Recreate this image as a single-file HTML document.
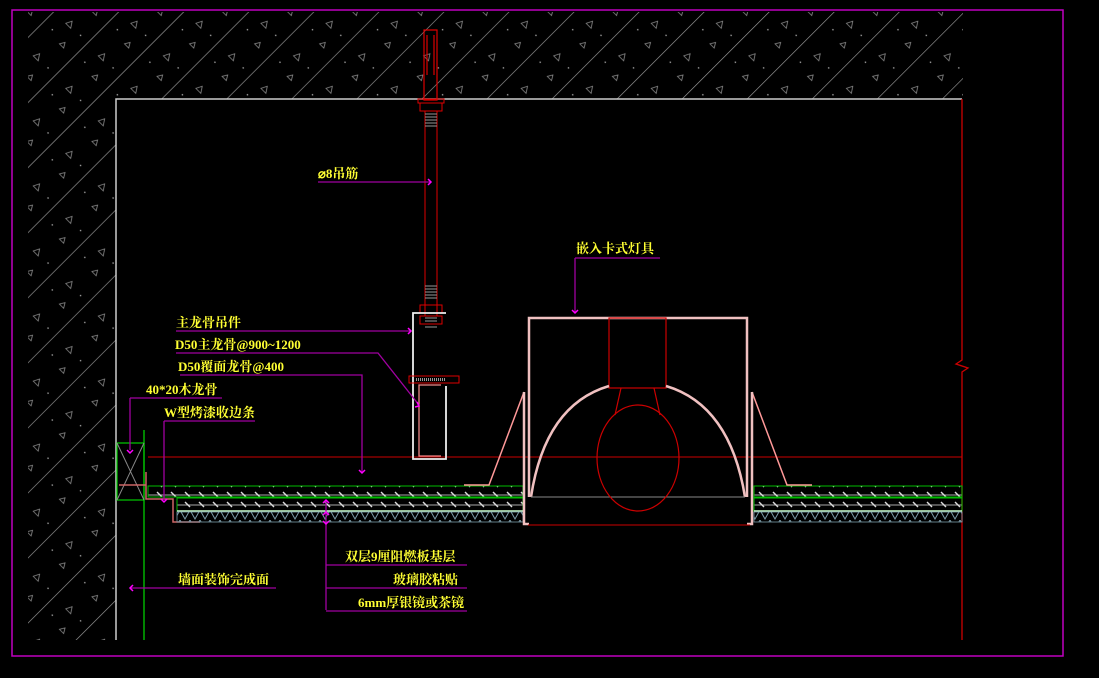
<!DOCTYPE html>
<html><head><meta charset="utf-8"><style>
html,body{margin:0;padding:0;background:#000;}
svg{display:block}
text{font-family:"Liberation Serif","Noto Serif CJK SC",serif;font-size:13px;fill:#ffff33;font-weight:bold;}
</style></head><body>
<svg width="1099" height="678" viewBox="0 0 1099 678" xmlns="http://www.w3.org/2000/svg">
<defs>
<pattern id="hatch" width="46" height="46" patternUnits="userSpaceOnUse" patternTransform="rotate(45)">
<line x1="0" y1="0" x2="0" y2="46" stroke="#9a9a9a" stroke-width="1.3"/>
<path d="M20 10 l4 6 h-7z M30 30 l3 5 h-6z" fill="none" stroke="#888" stroke-width="0.8"/>
<circle cx="12" cy="30" r="0.8" fill="#aaa"/><circle cx="36" cy="14" r="0.8" fill="#aaa"/>
</pattern>
<pattern id="board" width="14" height="10" patternUnits="userSpaceOnUse">
<line x1="0" y1="5" x2="14" y2="5" stroke="#aaa" stroke-width="1"/>
<line x1="3" y1="2" x2="8" y2="7" stroke="#ddd" stroke-width="1.4"/>
</pattern>
<pattern id="zig" width="10" height="10" patternUnits="userSpaceOnUse">
<path d="M0 0 L5 9 L10 0" fill="none" stroke="#7a9aa8" stroke-width="1"/>
</pattern>
</defs>
<rect x="12" y="10" width="1051" height="646" fill="none" stroke="#c000c0" stroke-width="1.5"/>
<path d="M28 12 H963 V99 H116 V640 H28 Z" fill="url(#hatch)"/>
<path d="M116 640 V99 H962" fill="none" stroke="#ccc" stroke-width="1.5"/>
<path d="M962 99 V360 L956 364 L968 368 L962 372 V640" fill="none" stroke="#c00" stroke-width="1.3"/>
<line x1="148" y1="457" x2="962" y2="457" stroke="#c00" stroke-width="1"/>
<line x1="144" y1="430" x2="144" y2="640" stroke="#0c0" stroke-width="1.3"/>
<rect x="117" y="443" width="27" height="57" fill="none" stroke="#0c0" stroke-width="1.2"/>
<path d="M117 443 L144 500 M144 443 L117 500" stroke="#888" stroke-width="1"/>
<path d="M119 485 H146 V472 M146 485 V499 H173 V522 H200" fill="none" stroke="#c66" stroke-width="1.5"/>
<rect x="148" y="486" width="375" height="11" fill="url(#board)" stroke="#0b0" stroke-width="1"/>
<rect x="177" y="498" width="346" height="13" fill="url(#board)" stroke="#0b0" stroke-width="1"/>
<line x1="177" y1="511" x2="523" y2="511" stroke="#cfc" stroke-width="1.5"/>
<rect x="177" y="512" width="346" height="10" fill="url(#zig)" stroke="#7a9aa8" stroke-width="0.8"/>
<rect x="754" y="486" width="208" height="11" fill="url(#board)" stroke="#0b0" stroke-width="1"/>
<rect x="754" y="498" width="208" height="13" fill="url(#board)" stroke="#0b0" stroke-width="1"/>
<line x1="754" y1="511" x2="962" y2="511" stroke="#cfc" stroke-width="1.5"/>
<rect x="754" y="512" width="208" height="10" fill="url(#zig)" stroke="#7a9aa8" stroke-width="0.8"/>
<path d="M424 30 H437 V100 H424 Z M427 35 V75 M434 35 V75" fill="none" stroke="#d00" stroke-width="1.2"/>
<rect x="418" y="99" width="26" height="4" fill="none" stroke="#d00"/>
<rect x="420" y="103" width="22" height="8" fill="none" stroke="#d00"/>
<rect x="425" y="111" width="12" height="205" fill="none" stroke="#d00"/>
<path d="M425 114h12M425 117h12M425 120h12M425 123h12M425 126h12M425 286h12M425 289h12M425 292h12M425 295h12M425 298h12M425 318h12M425 321h12M425 324h12M425 327h12" stroke="#999"/>
<rect x="420" y="305" width="22" height="8" fill="none" stroke="#d00"/>
<rect x="420" y="316" width="22" height="8" fill="none" stroke="#d00"/>
<path d="M446 313 H413 V459 H446 V386" fill="none" stroke="#eee" stroke-width="1.8"/>
<path d="M441 385 H419 V456 H441" fill="none" stroke="#e88" stroke-width="1.3"/>
<rect x="409" y="376" width="50" height="7" fill="none" stroke="#d00"/>
<path d="M416 379.5h30" stroke="#999" stroke-width="3" stroke-dasharray="1 1"/>
<path d="M464 485 H489 L524 392 M812 485 H787 L752 392" fill="none" stroke="#f99" stroke-width="1.5"/>
<path d="M529 497 V318 H747 V497 M524 392 V524 H529 M752 392 V524 H747" fill="none" stroke="#f0c0c0" stroke-width="2.5"/>
<path d="M528 525 H750" stroke="#c00"/>
<rect x="609" y="318" width="57" height="70" fill="none" stroke="#c00" stroke-width="1.2"/>
<path d="M609 386 Q545 405 531 497 M666 386 Q730 405 745 497" fill="none" stroke="#f0c0c0" stroke-width="2.5"/>
<line x1="531" y1="497" x2="745" y2="497" stroke="#888"/>
<path d="M621 388 L615 415 M654 388 L660 415" stroke="#c00" stroke-width="1.2"/>
<ellipse cx="638" cy="458" rx="41" ry="53" fill="none" stroke="#c00" stroke-width="1.2"/>
<g stroke="#a000a0" stroke-width="1.3" fill="none">
<path d="M318 182 H430"/>
<path d="M176 331 H410"/>
<path d="M176 353 H378 L419 405"/>
<path d="M180 375 H362 V473"/>
<path d="M130 398 H222"/>
<path d="M130 398 V450"/>
<path d="M164 421 H255"/>
<path d="M164 421 V500"/>
<path d="M575 258 H660 M575 258 V312"/>
<path d="M326 500 V610 M326 565 H467 M326 588 H467 M326 611 H467"/>
<path d="M130 588 H276"/>
</g>
<g stroke="#ff00ff" stroke-width="1.5" fill="none">
<path d="M428 179 l3 3 l-3 3"/><path d="M408 328 l3 3 l-3 3"/><path d="M417 402 l2 4 l-4 1"/>
<path d="M359 470 l3 3 l3 -3"/><path d="M127 450 l3 3 l3 -3"/><path d="M161 499 l3 3 l3 -3"/>
<path d="M572 310 l3 3 l3 -3"/><path d="M323 503 l3 -3 l3 3 M323 515 l3 -3 l3 3 M323 521 l3 3 l3 -3"/>
<path d="M133 585 l-3 3 l3 3"/>
</g>
<text x="318" y="178">⌀8吊筋</text>
<text x="576" y="253">嵌入卡式灯具</text>
<text x="176" y="327">主龙骨吊件</text>
<text x="175" y="349">D50主龙骨@900~1200</text>
<text x="178" y="371">D50覆面龙骨@400</text>
<text x="146" y="394">40*20木龙骨</text>
<text x="164" y="417">W型烤漆收边条</text>
<text x="345" y="561">双层9厘阻燃板基层</text>
<text x="393" y="584">玻璃胶粘贴</text>
<text x="358" y="607">6mm厚银镜或茶镜</text>
<text x="178" y="584">墙面装饰完成面</text>
</svg>
</body></html>
